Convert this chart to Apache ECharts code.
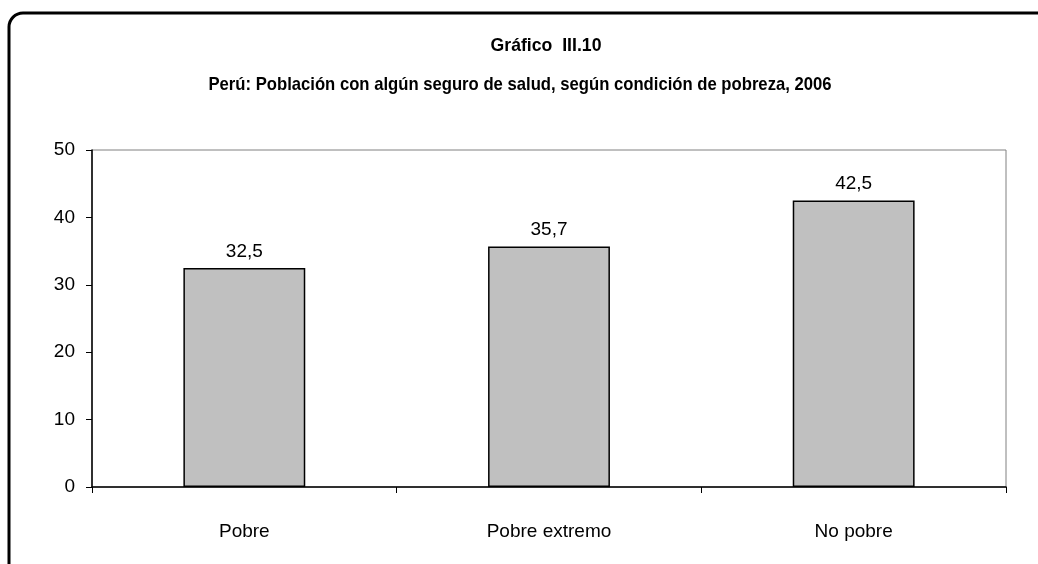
<!DOCTYPE html>
<html>
<head>
<meta charset="utf-8">
<script src="https://cdn.jsdelivr.net/npm/echarts@6/dist/echarts.min.js"></script>
<style>
  html, body { margin: 0; padding: 0; background: #fff; }
  #chart { width: 1038px; height: 564px; }
</style>
</head>
<body>
<div id="chart"></div>
<script>
// datos del gráfico
const categories = ["Pobre", "Pobre extremo", "No pobre"];
const values = [32.5, 35.7, 42.5];
const yTicks = [0, 10, 20, 30, 40, 50];

const FONT = "'Liberation Sans', Arial, sans-serif";
const chart = echarts.init(document.getElementById("chart"));

chart.setOption({
  animation: false,
  backgroundColor: "#fff",
  textStyle: { fontFamily: FONT },
  graphic: [
    {
      type: "rect",
      shape: { x: 9, y: 13, width: 1100, height: 700, r: 14 },
      style: { fill: "none", stroke: "#000", lineWidth: 3 },
      silent: true
    },
    {
      type: "text",
      x: 546, y: 46, scaleX: 0.93,
      style: { text: "Gráfico  III.10", fontFamily: FONT, fontSize: 19, fontWeight: "bold",
               fill: "#000", align: "center", verticalAlign: "middle" }
    },
    {
      type: "text",
      x: 520, y: 85, scaleX: 0.877,
      style: { text: "Perú: Población con algún seguro de salud, según condición de pobreza, 2006",
               fontFamily: FONT, fontSize: 19, fontWeight: "bold", fill: "#000",
               align: "center", verticalAlign: "middle" }
    }
  ],
  grid: {
    left: 92, right: 32, top: 150, bottom: 77,
    show: true, borderColor: "#808080", borderWidth: 1
  },
  xAxis: {
    type: "category",
    data: categories,
    axisLine: { lineStyle: { color: "#000", width: 1.5 } },
    axisTick: { show: true, length: 6, alignWithLabel: false, lineStyle: { color: "#000" } },
    axisLabel: { color: "#000", fontSize: 19, margin: 35, fontFamily: FONT },
    splitLine: { show: false }
  },
  yAxis: {
    type: "value",
    min: yTicks[0],
    max: yTicks[yTicks.length - 1],
    interval: 10,
    axisLine: { show: true, lineStyle: { color: "#000", width: 1.5 } },
    axisTick: { show: true, inside: false, length: 6, lineStyle: { color: "#000" } },
    axisLabel: { color: "#000", fontSize: 19, margin: 17, fontFamily: FONT },
    splitLine: { show: false }
  },
  series: [
    {
      type: "bar",
      data: values,
      barWidth: "40%",
      itemStyle: { color: "#c0c0c0", borderColor: "#000", borderWidth: 1.5 },
      label: {
        show: true,
        position: "top",
        distance: 7,
        color: "#000",
        fontSize: 19,
        fontFamily: FONT,
        formatter: p => p.value.toFixed(1).replace(".", ",")
      }
    }
  ]
});
</script>
</body>
</html>
